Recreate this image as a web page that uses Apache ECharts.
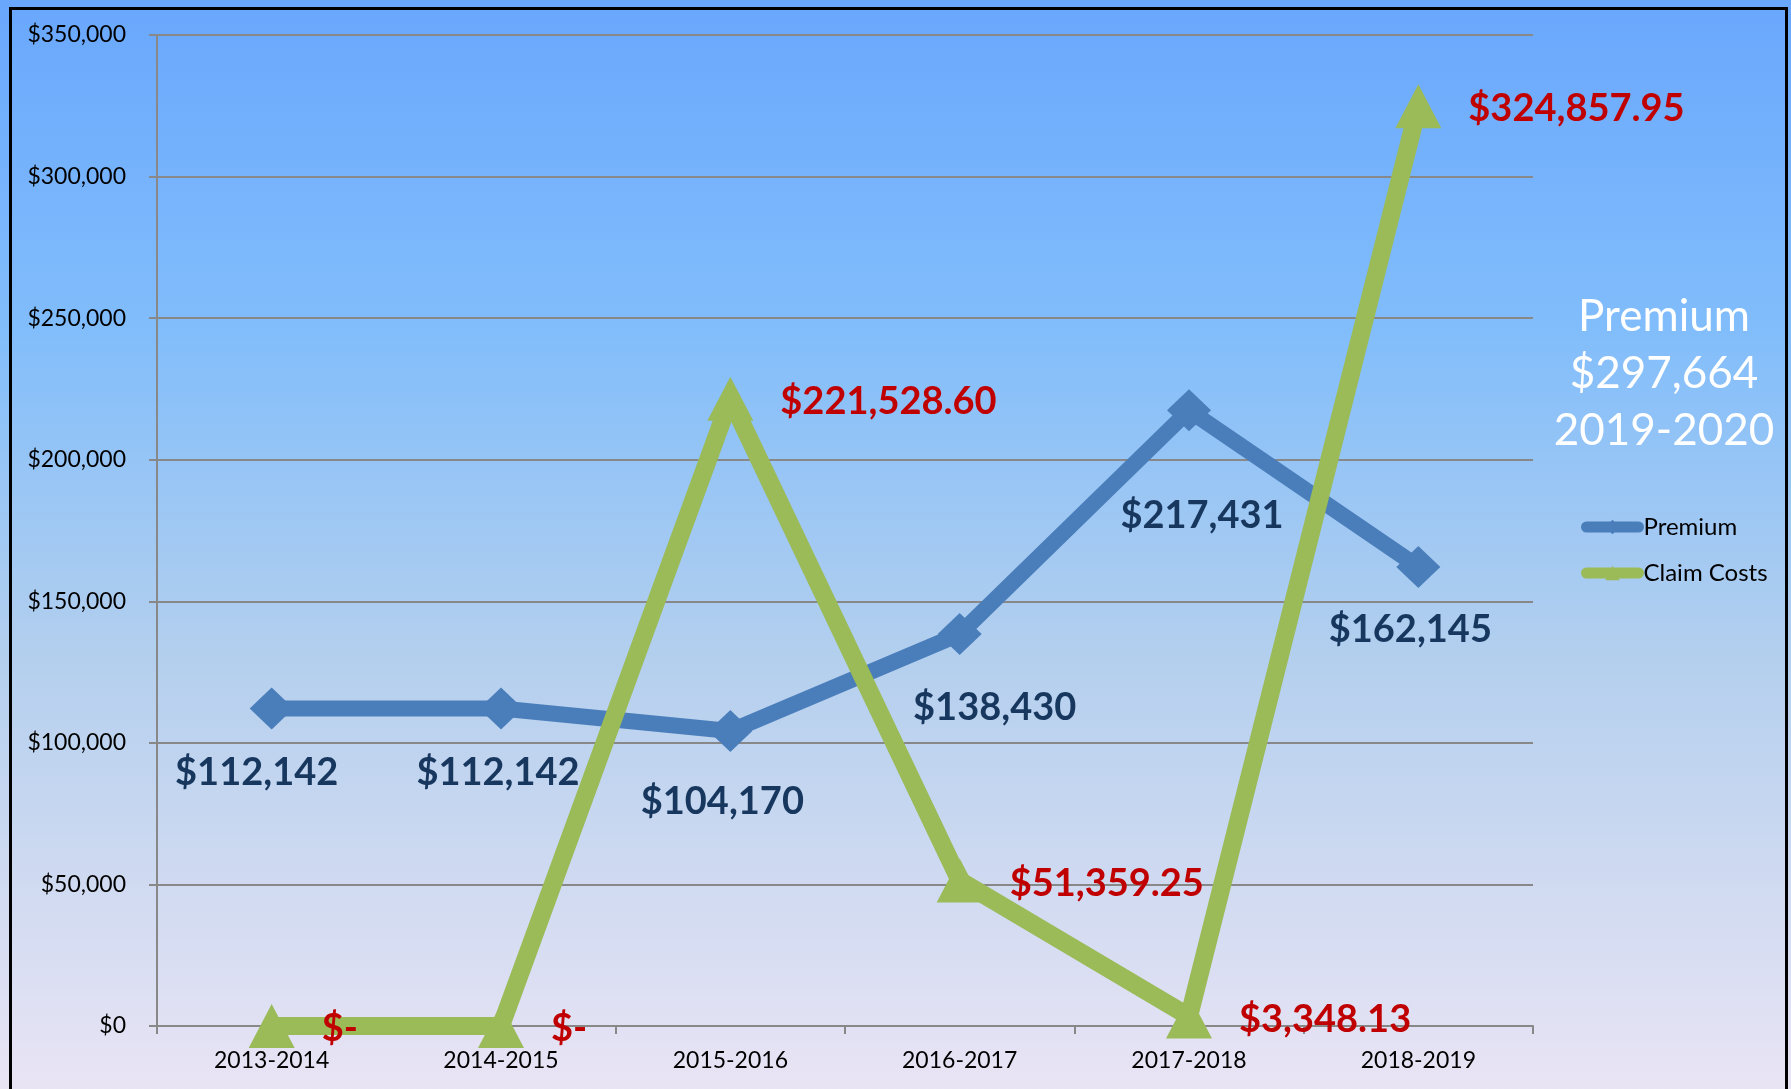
<!DOCTYPE html>
<html>
<head>
<meta charset="utf-8">
<script src="https://cdn.jsdelivr.net/npm/echarts@6/dist/echarts.min.js"></script>
<style>
html,body{margin:0;padding:0;width:1791px;height:1089px;overflow:hidden;}
#chart{width:1791px;height:1089px;}
</style>
</head>
<body>
<div id="chart"></div>
<script>
var categories = ['2013-2014', '2014-2015', '2015-2016', '2016-2017', '2017-2018', '2018-2019'];
var premium = [112142, 112142, 104170, 138430, 217431, 162145];
var claimCosts = [0, 0, 221528.60, 51359.25, 3348.13, 324857.95];
var yTicks = { min: 0, max: 350000, interval: 50000 };
var sideNote = ['Premium', '$297,664', '2019-2020'];
// label nudges for the Premium data labels (pixels), style only
var premiumLabelOffsets = [[-15, 64], [-3, 64], [-8, 71], [35, 74], [13, 105], [-8, 63]];

function money0(v) { return '$' + Math.round(v).toLocaleString('en-US'); }
function money2(v) {
  if (v === 0) return '$-';
  return '$' + v.toLocaleString('en-US', { minimumFractionDigits: 2, maximumFractionDigits: 2 });
}

var chart = echarts.init(document.getElementById('chart'), null, { renderer: 'canvas' });
var FONT = 'Lato, "Open Sans", sans-serif';

var premiumData = premium.map(function (v, i) {
  return { value: v, label: { offset: premiumLabelOffsets[i] } };
});

chart.setOption({
  backgroundColor: new echarts.graphic.LinearGradient(0, 0, 0, 1, [
    { offset: 0, color: '#69a7fd' },
    { offset: 0.3, color: '#81bdfb' },
    { offset: 0.6, color: '#b3cfee' },
    { offset: 1, color: '#e9e4f4' }
  ]),
  animation: false,
  textStyle: { fontFamily: FONT },
  grid: { left: 157, right: 258, top: 35, bottom: 63 },
  graphic: [
    { type: 'rect', left: 8, top: 6, z: 100, silent: true,
      shape: { width: 1776, height: 1110 },
      style: { fill: 'none', stroke: '#000', lineWidth: 3 } },
    { type: 'text', x: 1664, y: 288, z: 50,
      style: { text: sideNote.join('\n'), fill: '#ffffff', font: '44px ' + FONT,
        textAlign: 'center', textVerticalAlign: 'top', lineHeight: 57 } }
  ],
  legend: {
    orient: 'vertical', left: 1576, top: 510, itemWidth: 52, itemHeight: 18, itemGap: 22,
    textStyle: { fontSize: 24, color: '#000', fontFamily: FONT },
    lineStyle: { width: 11, cap: 'round' },
    data: ['Premium', 'Claim Costs']
  },
  xAxis: {
    type: 'category', data: categories, boundaryGap: true,
    axisLine: { lineStyle: { color: '#888888', width: 2 } },
    axisTick: { show: true, length: 8, lineStyle: { color: '#888888', width: 2 } },
    axisLabel: { fontSize: 23, color: '#000', margin: 23, fontFamily: FONT },
    splitLine: { show: false }
  },
  yAxis: {
    type: 'value', min: yTicks.min, max: yTicks.max, interval: yTicks.interval,
    axisLine: { show: true, lineStyle: { color: '#888888', width: 2 } },
    axisTick: { show: true, length: 8, lineStyle: { color: '#888888', width: 2 } },
    axisLabel: { fontSize: 23, color: '#000', margin: 31, formatter: money0, fontFamily: FONT },
    splitLine: { lineStyle: { color: '#888888', width: 2 } }
  },
  series: [
    {
      name: 'Premium', type: 'line', data: premiumData,
      symbol: 'diamond', symbolSize: [44, 42],
      lineStyle: { color: '#4a7ebb', width: 16 },
      itemStyle: { color: '#4a7ebb' },
      label: { show: true, position: 'inside', formatter: function (p) { return money0(p.value); },
        fontSize: 38, fontWeight: 'bold', color: '#17375e', fontFamily: FONT },
      z: 3
    },
    {
      name: 'Claim Costs', type: 'line', data: claimCosts,
      symbol: 'triangle', symbolSize: [46, 44],
      lineStyle: { color: '#9bbb59', width: 18 },
      itemStyle: { color: '#9bbb59' },
      label: { show: true, position: 'right', distance: 27, offset: [0, 3],
        formatter: function (p) { return money2(p.value); },
        fontSize: 38, fontWeight: 'bold', color: '#c00000', fontFamily: FONT },
      z: 4
    }
  ]
});
</script>
</body>
</html>
